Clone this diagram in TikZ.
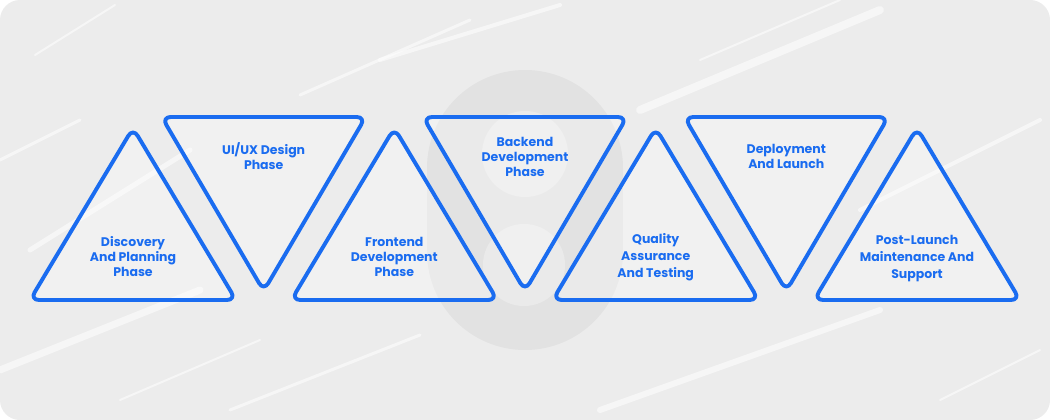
\documentclass[tikz,border=0pt]{standalone}
\usepackage{fontspec}
\newfontfamily\phasefont{Poppins}
\definecolor{phaseblue}{RGB}{26,108,240}
\definecolor{marble}{RGB}{236,236,236}

\begin{document}
\begin{tikzpicture}[x=1pt,y=-1pt,
    tri/.style={draw=phaseblue, line width=3.9pt, rounded corners=9pt, line join=round, fill=white, fill opacity=0.3},
    phase/.style={align=center, text=phaseblue, inner sep=0pt, font=\phasefont\bfseries\fontsize{12.5}{15}\selectfont},
    widephase/.style={phase, font=\phasefont\bfseries\fontsize{12.5}{17}\selectfont},
    streak/.style={white, line cap=round, opacity=0.55}]
        \useasboundingbox (0,0) rectangle (1050,420);
        \fill[white] (0,0) rectangle (1050,420);
        \fill[marble, rounded corners=20pt] (0,0) rectangle (1050,420);

        % marble streaks
        \draw[streak, line width=5pt] (30,250) -- (190,150);
        \draw[streak, line width=2pt] (35,55) -- (115,5);
        \draw[streak, line width=7pt] (0,370) -- (200,290);
        \draw[streak, line width=3pt] (300,95) -- (470,20);
        \draw[streak, line width=8pt] (640,110) -- (880,10);
        \draw[streak, line width=2pt] (700,60) -- (840,0);
        \draw[streak, line width=4pt] (860,210) -- (1040,120);
        \draw[streak, line width=6pt] (600,410) -- (880,310);
        \draw[streak, line width=3pt] (230,410) -- (420,335);
        \draw[streak, line width=2pt] (940,400) -- (1040,350);
        \draw[streak, line width=4pt] (380,60) -- (560,5);
        \draw[streak, line width=3pt] (0,160) -- (80,120);
        \draw[streak, line width=2pt] (120,400) -- (260,340);

        % faint logo behind the middle
        \fill[black, opacity=0.04, rounded corners=97.9pt] (427,70) rectangle (623,350);
        \fill[white, opacity=0.3] (525,154) circle (43pt);
        \fill[white, opacity=0.3] (524,265) circle (41pt);

        % triangles pointing up
        \draw[tri] (30,300) -- (133,128) -- (236,300) -- cycle;
        \draw[tri] (291.3,300) -- (394.3,128) -- (497.3,300) -- cycle;
        \draw[tri] (552.7,300) -- (655.7,128) -- (758.7,300) -- cycle;
        \draw[tri] (814,300) -- (917,128) -- (1020,300) -- cycle;

        % triangles pointing down
        \draw[tri] (161.7,117) -- (365.7,117) -- (263.7,291) -- cycle;
        \draw[tri] (423,117) -- (627,117) -- (525,291) -- cycle;
        \draw[tri] (684.3,117) -- (888.3,117) -- (786.3,291) -- cycle;

        \node[phase] (discovery) at (133,256.5) {Discovery\\And Planning\\Phase};
        \node[phase] (uiux) at (263.7,156.5) {UI/UX Design\\Phase};
        \node[phase] (frontend) at (394.3,256.5) {Frontend\\Development\\Phase};
        \node[phase] (backend) at (525,156.5) {Backend\\Development\\Phase};
        \node[widephase] (quality) at (655.7,257.5) {Quality\\Assurance\\And Testing};
        \node[phase] (deploy) at (786.3,156.5) {Deployment\\And Launch};
        \node[widephase] (support) at (917,258.5) {Post-Launch\\Maintenance And\\Support};

\end{tikzpicture}
\end{document}
